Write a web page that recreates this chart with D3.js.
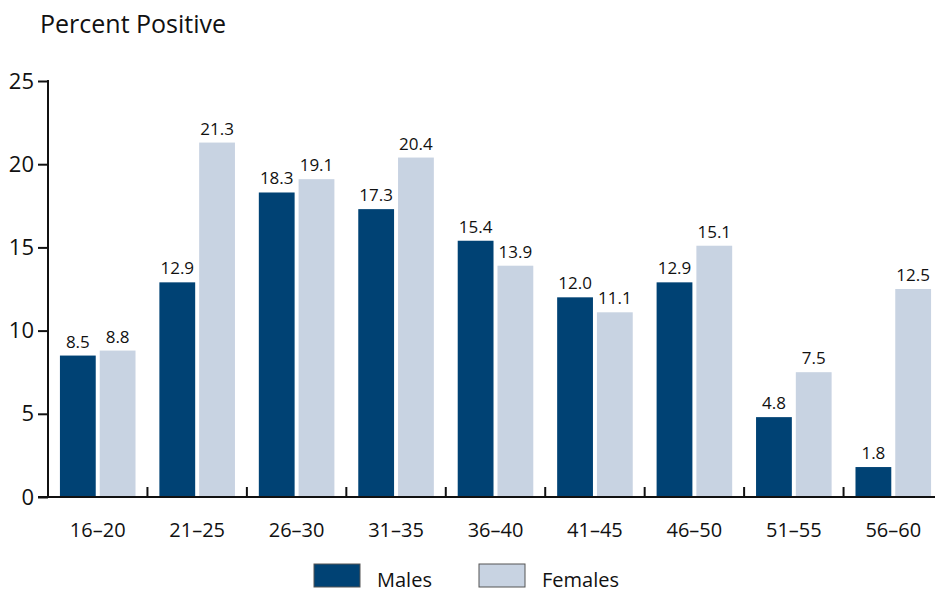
<!DOCTYPE html>
<html>
<head>
<meta charset="utf-8">
<script src="https://cdn.jsdelivr.net/npm/d3@7"></script>
<style>
  html, body { margin: 0; padding: 0; background: #fff; }
  svg { display: block; font-family: "Open Sans", "Noto Sans", sans-serif; }
</style>
</head>
<body>
<svg id="chart" width="935" height="592"></svg>
<script>
// Positive test rate by age group, split by sex
const ageGroups = ["16–20", "21–25", "26–30", "31–35", "36–40", "41–45", "46–50", "51–55", "56–60"];
const males   = [8.5, 12.9, 18.3, 17.3, 15.4, 12.0, 12.9, 4.8, 1.8];
const females = [8.8, 21.3, 19.1, 20.4, 13.9, 11.1, 15.1, 7.5, 12.5];
const yTicks  = [0, 5, 10, 15, 20, 25];
const seriesNames = ["Males", "Females"];
const seriesColors = ["#004274", "#c8d3e2"];

const svg = d3.select("#chart");
const plot = { left: 48, right: 943, top: 81, bottom: 497 };

const x = d3.scaleBand()
  .domain(ageGroups)
  .range([plot.left, plot.right])
  .paddingInner(0).paddingOuter(0);

// position of each series inside a group, in percent of the group width
const sub = d3.scaleBand()
  .domain(seriesNames)
  .range([12, 88])
  .paddingInner(0.1);

const y = d3.scaleLinear().domain([0, 25]).range([plot.bottom, plot.top]);

// Title
svg.append("text")
  .attr("x", 40).attr("y", 33)
  .attr("font-size", 25).attr("fill", "#111")
  .text("Percent Positive");

// Y axis
const yAxis = svg.append("g")
  .attr("transform", `translate(${plot.left},0)`)
  .call(d3.axisLeft(y).tickValues(yTicks).tickSize(10).tickPadding(4));
yAxis.select(".domain").remove();
yAxis.selectAll(".tick line").attr("stroke", "#111").attr("stroke-width", 2);
yAxis.selectAll(".tick text").attr("font-size", 22).attr("fill", "#111")
  .attr("font-family", "Open Sans, Noto Sans, sans-serif");
yAxis.append("line")
  .attr("x1", 0).attr("x2", 0)
  .attr("y1", y(25) - 1).attr("y2", plot.bottom)
  .attr("stroke", "#111").attr("stroke-width", 2);

// Bars
const groups = svg.append("g").selectAll("g")
  .data(ageGroups)
  .join("g")
  .attr("transform", d => `translate(${x(d)},0)`);

const barData = (d, i) => [
  { s: "Males", v: males[i], c: seriesColors[0] },
  { s: "Females", v: females[i], c: seriesColors[1] }
];

groups.each(function(d, i) {
  const g = d3.select(this);
  const bw = sub.bandwidth() * x.bandwidth() / 100;
  const items = barData(d, i);
  g.selectAll("rect")
    .data(items)
    .join("rect")
    .attr("x", b => sub(b.s) * x.bandwidth() / 100)
    .attr("width", bw)
    .attr("y", b => y(b.v))
    .attr("height", b => y(0) - y(b.v))
    .attr("fill", b => b.c);
  g.selectAll("text.val")
    .data(items)
    .join("text")
    .attr("class", "val")
    .attr("x", b => sub(b.s) * x.bandwidth() / 100 + bw / 2)
    .attr("y", b => y(b.v) - 8)
    .attr("text-anchor", "middle")
    .attr("font-size", 17)
    .attr("fill", "#111")
    .text(b => b.v.toFixed(1));
});

// X axis
const xAxis = svg.append("g")
  .attr("transform", `translate(0,${plot.bottom})`);
xAxis.append("line")
  .attr("x1", plot.left - 10).attr("x2", 935)
  .attr("y1", 0).attr("y2", 0)
  .attr("stroke", "#111").attr("stroke-width", 2);
xAxis.selectAll("line.sep")
  .data(ageGroups.slice(1))
  .join("line")
  .attr("class", "sep")
  .attr("x1", d => x(d)).attr("x2", d => x(d))
  .attr("y1", 0).attr("y2", -10)
  .attr("stroke", "#111").attr("stroke-width", 2);
xAxis.selectAll("text")
  .data(ageGroups)
  .join("text")
  .attr("x", d => x(d) + x.bandwidth() / 2)
  .attr("y", 40)
  .attr("text-anchor", "middle")
  .attr("font-size", 20)
  .attr("fill", "#111")
  .text(d => d);

// Legend
const legend = svg.append("g");
const legendPos = [314, 479];
seriesNames.forEach((name, i) => {
  legend.append("rect")
    .attr("x", legendPos[i]).attr("y", 564)
    .attr("width", 46).attr("height", 23)
    .attr("fill", seriesColors[i])
    .attr("stroke", "#555").attr("stroke-width", 1);
  legend.append("text")
    .attr("x", legendPos[i] + 63).attr("y", 587)
    .attr("font-size", 20).attr("fill", "#111")
    .text(name);
});
</script>
</body>
</html>
